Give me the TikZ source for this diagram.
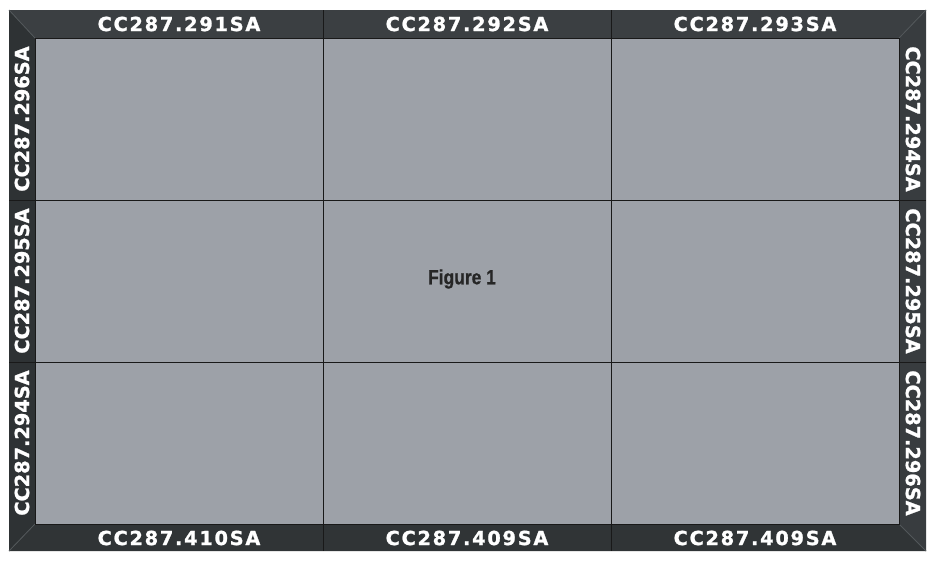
\documentclass[tikz,border=0pt]{standalone}
\usepackage{fontspec}
\usepackage{tikz}
\usetikzlibrary{positioning}
\newfontfamily\barfont[FakeBold=1.2]{DejaVu Sans Bold}
\newfontfamily\widebarfont[LetterSpace=9,FakeBold=1.2]{DejaVu Sans Bold}
\newfontfamily\figfont[FakeStretch=0.85,FakeBold=0.8]{Liberation Sans Bold}
\definecolor{panelgrey}{HTML}{9DA1A8}
\definecolor{frametop}{HTML}{3B3F42}
\definecolor{frameleft}{HTML}{2E3234}
\definecolor{frameright}{HTML}{383C3F}
\definecolor{framebottom}{HTML}{303436}
\definecolor{mitregrey}{HTML}{52575A}
\tikzstyle{panel} = [rectangle, draw=black!90, line width=0.6pt, fill=panelgrey, minimum width=86.4mm, minimum height=48.6mm, inner sep=0pt, outer sep=0pt]
\tikzstyle{hlabel} = [text=white, font=\widebarfont\fontsize{16.5}{18}\selectfont, inner sep=0pt]
\tikzstyle{vlabel} = [text=white, font=\barfont\fontsize{16.5}{18}\selectfont, inner sep=0pt]
\tikzstyle{figlabel} = [text=black!85, font=\figfont\fontsize{17.5}{20}\selectfont, inner sep=0pt]
\tikzstyle{divider} = [black!90, line width=0.6pt]
\tikzstyle{mitre} = [mitregrey, line width=0.7pt]

\begin{document}
\begin{tikzpicture}[x=0.3mm, y=-0.3mm]
        \useasboundingbox (0,0) rectangle (932,562);
        \fill[white] (0,0) rectangle (932,562);
        % outer corners of the frame
        \coordinate (o1) at (9,10);
        \coordinate (o2) at (926,10);
        \coordinate (o3) at (926,551);
        \coordinate (o4) at (9,551);

        \node (p11) [panel] at (179,119) {};
        \node (p12) [panel, right=0pt of p11] {};
        \node (p13) [panel, right=0pt of p12] {};
        \node (p21) [panel, below=0pt of p11] {};
        \node (p22) [panel, right=0pt of p21] {};
        \node (p23) [panel, right=0pt of p22] {};
        \node (p31) [panel, below=0pt of p21] {};
        \node (p32) [panel, right=0pt of p31] {};
        \node (p33) [panel, right=0pt of p32] {};

        % frame bars
        \fill[frametop] (o1) -- (o2) -- (p13.north east) -- (p11.north west) -- cycle;
        \fill[frameright] (o2) -- (o3) -- (p33.south east) -- (p13.north east) -- cycle;
        \fill[framebottom] (o3) -- (o4) -- (p31.south west) -- (p33.south east) -- cycle;
        \fill[frameleft] (o4) -- (o1) -- (p11.north west) -- (p31.south west) -- cycle;
        \draw[mitre] (o1) -- (p11.north west);
        \draw[mitre] (o2) -- (p13.north east);
        \draw[mitre] (o3) -- (p33.south east);
        \draw[mitre] (o4) -- (p31.south west);
        \draw[divider] (p11.north west) rectangle (p33.south east);

        \draw[divider] (p12.north west) -- (p12.north west |- o1);
        \draw[divider] (p12.north east) -- (p12.north east |- o1);
        \draw[divider] (p32.south west) -- (p32.south west |- o4);
        \draw[divider] (p32.south east) -- (p32.south east |- o4);
        \draw[divider] (p21.north west) -- (p21.north west -| o1);
        \draw[divider] (p21.south west) -- (p21.south west -| o1);
        \draw[divider] (p23.north east) -- (p23.north east -| o2);
        \draw[divider] (p23.south east) -- (p23.south east -| o2);

        \node (t1) [hlabel] at (p11.north |- 0,24) {CC287.291SA};
        \node (t2) [hlabel] at (p12.north |- 0,24) {CC287.292SA};
        \node (t3) [hlabel] at (p13.north |- 0,24) {CC287.293SA};
        \node (b1) [hlabel] at (p31.south |- 0,538) {CC287.410SA};
        \node (b2) [hlabel] at (p32.south |- 0,538) {CC287.409SA};
        \node (b3) [hlabel] at (p33.south |- 0,538) {CC287.409SA};
        \node (l1) [vlabel, rotate=90] at (p11.west -| 22,0) {CC287.296SA};
        \node (l2) [vlabel, rotate=90] at (p21.west -| 22,0) {CC287.295SA};
        \node (l3) [vlabel, rotate=90] at (p31.west -| 22,0) {CC287.294SA};
        \node (r1) [vlabel, rotate=-90] at (p13.east -| 913,0) {CC287.294SA};
        \node (r2) [vlabel, rotate=-90] at (p23.east -| 913,0) {CC287.295SA};
        \node (r3) [vlabel, rotate=-90] at (p33.east -| 913,0) {CC287.296SA};

        \node (fig) [figlabel, xshift=-1.5mm, yshift=0.6mm] at (p22) {Figure 1};
\end{tikzpicture}
\end{document}
